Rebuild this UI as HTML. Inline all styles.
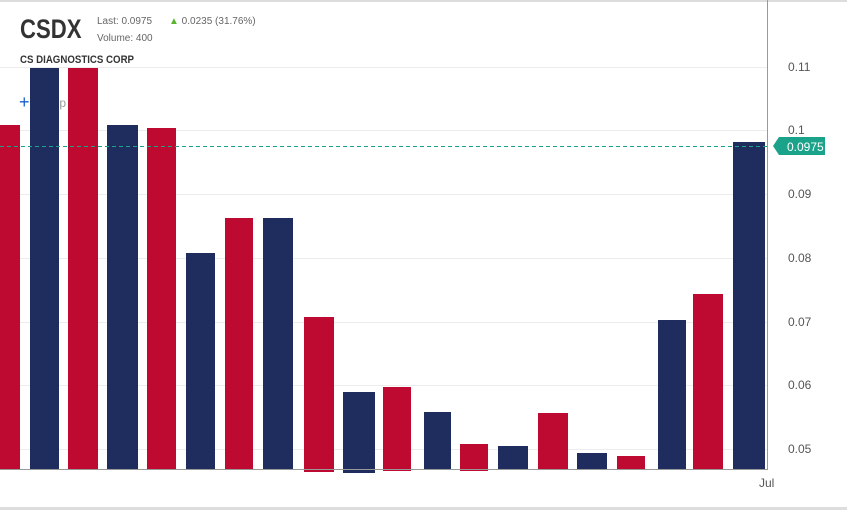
<!DOCTYPE html>
<html><head><style>
body{margin:0;width:847px;height:510px;background:#fff;overflow:hidden;font-family:"Liberation Sans",sans-serif;position:relative}
.a{position:absolute}
</style></head><body>
<div class="a" style="left:0;top:0;width:847px;height:2px;background:#ddd"></div>
<div class="a" style="left:0;top:507px;width:847px;height:3px;background:#ddd"></div>
<svg class="a" style="left:0;top:0" width="847" height="510">
<g stroke="#ececec" stroke-width="1">
<line x1="0" x2="767" y1="67.5" y2="67.5"/><line x1="0" x2="767" y1="130.5" y2="130.5"/>
<line x1="0" x2="767" y1="194.5" y2="194.5"/><line x1="0" x2="767" y1="258.5" y2="258.5"/>
<line x1="0" x2="767" y1="322.5" y2="322.5"/><line x1="0" x2="767" y1="385.5" y2="385.5"/>
<line x1="0" x2="767" y1="449.5" y2="449.5"/>
</g>
<text x="19" y="108" font-size="18" fill="#1a5fd0">+</text>
<text x="34" y="107" font-size="12" fill="#999">Comp</text>
<g fill="#be0a30">
<rect x="0" y="125" width="20" height="344"/><rect x="68" y="68" width="30" height="401"/>
<rect x="147" y="128" width="29" height="341"/><rect x="225" y="218" width="28" height="252"/>
<rect x="304" y="317" width="30" height="155"/><rect x="383" y="387" width="28" height="84"/>
<rect x="460" y="444" width="28" height="27"/><rect x="538" y="413" width="30" height="57"/>
<rect x="617" y="456" width="28" height="14"/><rect x="693" y="294" width="30" height="176"/>
</g>
<g fill="#1f2d5e">
<rect x="30" y="68" width="29" height="401"/><rect x="107" y="125" width="31" height="345"/>
<rect x="186" y="253" width="29" height="216"/><rect x="263" y="218" width="30" height="252"/>
<rect x="343" y="392" width="32" height="81"/><rect x="424" y="412" width="27" height="58"/>
<rect x="498" y="446" width="30" height="24"/><rect x="577" y="453" width="30" height="17"/>
<rect x="658" y="320" width="28" height="150"/><rect x="733" y="142" width="32" height="328"/>
</g>
<line x1="0" x2="767" y1="469.5" y2="469.5" stroke="#999"/>
<line x1="767.5" x2="767.5" y1="0" y2="470" stroke="#999"/>
<line x1="0" x2="770" y1="146.5" y2="146.5" stroke="#1aa38a" stroke-dasharray="4,3"/>
<path d="M773 146 L779 137 H825 V155 H779 Z" fill="#1aa38a"/>
<text x="787" y="151" font-size="12" fill="#fff">0.0975</text>
<g font-size="12" fill="#555">
<text x="788" y="71">0.11</text><text x="788" y="134">0.1</text><text x="788" y="198">0.09</text>
<text x="788" y="262">0.08</text><text x="788" y="326">0.07</text><text x="788" y="389">0.06</text>
<text x="788" y="453">0.05</text><text x="759" y="487">Jul</text>
</g>
</svg>
<div class="a" style="left:0;top:2px;width:262px;height:65px;background:#fff"></div>
<div class="a" style="left:20px;top:14px;font-size:27px;font-weight:bold;color:#333;transform:scaleX(0.82);transform-origin:left">CSDX</div>
<div class="a" style="left:97px;top:16px;font-size:10px;color:#666">Last: 0.0975</div>
<div class="a" style="left:97px;top:33px;font-size:10px;color:#666">Volume: 400</div>
<div class="a" style="left:169px;top:16px;font-size:10px;color:#666"><span style="color:#5bb52f">&#9650;</span> 0.0235 (31.76%)</div>
<div class="a" style="left:20px;top:54px;font-size:11px;font-weight:bold;color:#333;transform:scaleX(0.88);transform-origin:left">CS DIAGNOSTICS CORP</div>
</body></html>
